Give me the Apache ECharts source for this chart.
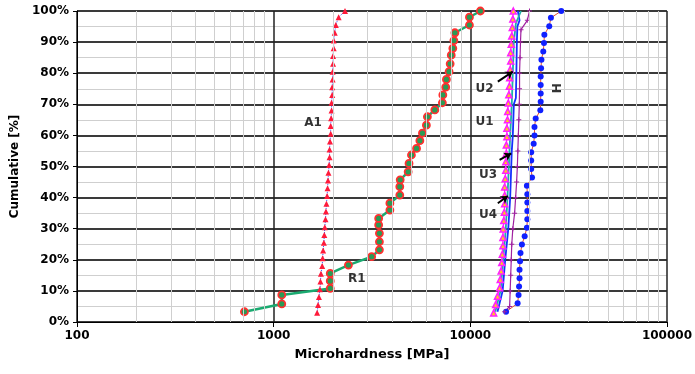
<!DOCTYPE html>
<html>
<head>
<meta charset="utf-8">
<script src="https://cdn.jsdelivr.net/npm/echarts@6/dist/echarts.min.js"></script>
<style>
  html, body { margin: 0; padding: 0; background: #fff; }
  #chart { width: 695px; height: 374px; }
</style>
</head>
<body>
<div id="chart"></div>
<script>
// cumulative levels [%] and microhardness [MPa]
const levelsA1 = [3, 5.5, 8, 10.5, 13, 15.5, 18, 20.5, 23, 25.5, 28, 30.5, 33, 35.5, 38, 40.5, 43, 45.5, 48, 50.5,
  53, 55.5, 58, 60.5, 63, 65.5, 68, 70.5, 73, 75.5, 78, 80.5, 83, 85.5, 88, 90.5, 93, 95.5, 98, 100];
const hardA1 = [1664, 1682, 1700, 1720, 1730, 1740, 1765, 1775, 1785, 1800, 1810, 1820, 1835, 1845, 1855, 1870, 1880, 1890, 1900, 1915,
  1925, 1925, 1935, 1950, 1950, 1960, 1970, 1970, 1985, 1985, 1995, 1995, 2005, 2005, 2020, 2020, 2045, 2070, 2140, 2306];

const levelsR1 = [3.3, 5.8, 8.7, 10.8, 13.2, 15.6, 18.3, 21, 23.2, 25.8, 28.5, 31.2, 33.3, 36, 38.2, 40.8, 43.5, 45.7, 48.3, 51,
  53.7, 55.8, 58.3, 60.7, 63.3, 66, 68.2, 70.5, 73, 75.5, 78, 80.5, 83, 85.8, 88, 90.5, 93, 95.5, 98, 100];
const hardR1 = [710, 1100, 1100, 1940, 1940, 1940, 2400, 3150, 3450, 3450, 3450, 3420, 3420, 3900, 3900, 4380, 4380, 4400, 4830, 4880,
  5020, 5330, 5540, 5710, 5980, 6050, 6600, 7210, 7250, 7500, 7560, 7800, 7900, 8000, 8150, 8250, 8350, 9900, 9900, 11250];

const levelsPink = [2.9, 5.6, 8.3, 11, 13.7, 16.4, 19.1, 21.8, 24.5, 27.2, 29.9, 32.6, 35.3, 38, 40.7, 43.4, 46.1, 48.8, 51.5, 54.2,
  56.9, 59.6, 62.3, 65, 67.7, 70.4, 73.1, 75.8, 78.5, 81.2, 83.9, 86.6, 89.3, 92, 94.7, 97.4, 100];
const hardPink = [13150, 13450, 13750, 14100, 14200, 14350, 14450, 14550, 14650, 14650, 14700, 14800, 14900, 14950, 14950, 14950, 15050, 15150, 15150, 15250,
  15250, 15350, 15350, 15450, 15500, 15600, 15700, 15800, 15850, 15950, 16050, 16050, 16150, 16250, 16350, 16450, 16550];

const levelsTeal = [3.3, 10, 20, 30, 40, 50, 60, 70, 80, 90, 96, 100];
const hardTeal = [13400, 14250, 14700, 15150, 15450, 15700, 15950, 16250, 16450, 16650, 17050, 18100];

const levelsBlue = [3.3, 10, 20, 30, 40, 50, 55, 60, 70, 72, 80, 90, 95, 97, 100];
const hardBlue = [13750, 14600, 15050, 15600, 15950, 16150, 16250, 16450, 16650, 17050, 17150, 17250, 17350, 17800, 17450];

const levelsPurple = [3.3, 5, 10, 15, 20, 25, 30, 35, 40, 45, 50, 55, 60, 65, 70, 75, 80, 85, 90, 94, 97, 100];
const hardPurple = [14950, 15850, 15950, 16050, 16150, 16250, 16450, 16800, 17000, 17200, 17350, 17450, 17550, 17650, 17750, 17800, 17800, 17900, 18000, 18100, 19500, 20000];

const levelsH = [3.3, 6, 8.7, 11.4, 14.1, 16.8, 19.5, 22.2, 24.9, 27.6, 30.3, 33, 35.7, 38.4, 41.1, 43.8, 46.5, 49.2, 51.9, 54.6,
  57.3, 60, 62.7, 65.4, 68.1, 70.8, 73.5, 76.2, 78.9, 81.6, 84.3, 87, 89.7, 92.4, 95.1, 97.8, 100];
const hardH = [15200, 17400, 17600, 17700, 17800, 17800, 17900, 18000, 18300, 18900, 19400, 19500, 19500, 19500, 19500, 19400, 20600, 20400, 20400, 20400,
  21000, 21200, 21200, 21500, 22700, 22800, 22800, 22800, 22800, 22900, 23000, 23500, 23700, 23800, 25200, 25700, 29000];

// text labels and arrows (data coordinates)
const labelNames = ['A1', 'R1', 'U2', 'U1', 'U3', 'U4', 'H'];
const labelX = [1585, 2650, 11830, 11830, 12300, 12300, 27800];
const labelY = [64.1, 14, 75, 64.4, 47.3, 34.4, 75.2];
const arrowFrom = [[13800, 77.3], [14090, 52.1], [13800, 38.2]];
const arrowTo = [[16440, 80.5], [16150, 54.2], [15530, 40.5]];

// minor vertical grid of the log axis
const minorX = [200, 300, 400, 500, 600, 700, 800, 900,
  2000, 3000, 4000, 5000, 6000, 7000, 8000, 9000,
  20000, 30000, 40000, 50000, 60000, 70000, 80000, 90000];

const FONT = 'DejaVu Sans';

function pairs(xs, ys) {
  return xs.map((x, i) => [x, ys[i]]);
}

const chart = echarts.init(document.getElementById('chart'));

const option = {
  animation: false,
  backgroundColor: '#fff',
  grid: { left: 77, right: 27, top: 11, bottom: 52 },
  xAxis: {
    type: 'log',
    logBase: 10,
    min: 100,
    max: 100000,
    name: 'Microhardness [MPa]',
    nameLocation: 'middle',
    nameGap: 26,
    nameTextStyle: { fontFamily: FONT, fontWeight: 'bold', fontSize: 13, color: '#000' },
    axisLine: { lineStyle: { color: '#000', width: 1 } },
    axisTick: { show: true, length: 5, lineStyle: { color: '#000' } },
    axisLabel: {
      fontFamily: FONT, fontWeight: 'bold', fontSize: 12, color: '#000', margin: 8,
      formatter: v => String(Math.round(v))
    },
    splitLine: { show: true, lineStyle: { color: '#222', width: 1.5 } }
  },
  yAxis: {
    type: 'value',
    min: 0,
    max: 100,
    interval: 10,
    name: 'Cumulative [%]',
    nameLocation: 'middle',
    nameGap: 54,
    nameTextStyle: { fontFamily: FONT, fontWeight: 'bold', fontSize: 12, color: '#000' },
    axisLine: { show: true, lineStyle: { color: '#000', width: 1 } },
    axisTick: { show: true, length: 4, lineStyle: { color: '#000' } },
    axisLabel: { fontFamily: FONT, fontWeight: 'bold', fontSize: 12, color: '#000', formatter: '{value}%' },
    splitLine: { show: true, lineStyle: { color: '#3a3a3a', width: 2 } },
    minorTick: { show: false, splitNumber: 2 },
    minorSplitLine: { show: true, lineStyle: { color: '#cfcfcf', width: 1 } }
  },
  series: [
    {
      name: 'grid',
      type: 'line',
      data: [],
      silent: true,
      markLine: {
        silent: true,
        symbol: ['none', 'none'],
        label: { show: false },
        lineStyle: { color: '#cfcfcf', width: 1, type: 'solid' },
        data: minorX.map(v => ({ xAxis: v }))
      }
    },
    {
      name: 'A1',
      type: 'line',
      data: pairs(hardA1, levelsA1),
      lineStyle: { color: '#3050ff', width: 1, type: 'dotted' },
      symbol: 'triangle',
      symbolSize: 6,
      itemStyle: { color: '#ff1a3a', borderColor: '#ff1a3a', borderWidth: 0 }
    },
    {
      name: 'R1',
      type: 'line',
      data: pairs(hardR1, levelsR1),
      lineStyle: { color: '#1aaa70', width: 2.5 },
      symbol: 'circle',
      symbolSize: 7,
      itemStyle: { color: '#2a9a55', borderColor: '#ff3030', borderWidth: 1.8 }
    },
    {
      name: 'H',
      type: 'line',
      data: pairs(hardH, levelsH),
      lineStyle: { color: '#e05030', width: 1 },
      symbol: 'circle',
      symbolSize: 6,
      itemStyle: { color: '#1020ff', borderColor: '#1020ff', borderWidth: 0 }
    },
    {
      name: 'Upurple',
      type: 'line',
      data: pairs(hardPurple, levelsPurple),
      lineStyle: { color: '#a020a0', width: 1.2 },
      symbol: 'path://M4,0H6V4H10V6H6V10H4V6H0V4H4Z',
      symbolSize: 5,
      itemStyle: { color: '#a020a0' }
    },
    {
      name: 'Ublue',
      type: 'line',
      data: pairs(hardBlue, levelsBlue),
      lineStyle: { color: '#1530ff', width: 1.8 },
      symbol: 'none'
    },
    {
      name: 'Uteal',
      type: 'line',
      data: pairs(hardTeal, levelsTeal),
      lineStyle: { color: '#20b0a8', width: 1.8 },
      symbol: 'none'
    },
    {
      name: 'Upink',
      type: 'line',
      data: pairs(hardPink, levelsPink),
      lineStyle: { color: '#ff20ff', width: 1.2 },
      symbol: 'triangle',
      symbolSize: 6,
      itemStyle: { color: '#ffc820', borderColor: '#ff20ff', borderWidth: 1.5 }
    },
    {
      name: 'labels',
      type: 'scatter',
      symbolSize: 0,
      silent: true,
      data: labelNames.map((n, i) => ({
        name: n,
        value: [labelX[i], labelY[i]],
        label: n === 'H' ? { rotate: 90 } : {}
      })),
      label: {
        show: true,
        position: 'inside',
        formatter: p => p.name,
        fontFamily: FONT,
        fontWeight: 'bold',
        fontSize: 12,
        color: '#000'
      },
      markLine: {
        silent: true,
        symbol: ['none', 'arrow'],
        symbolSize: 7,
        label: { show: false },
        lineStyle: { color: '#000', width: 2, type: 'solid' },
        data: arrowFrom.map((a, i) => [{ coord: a }, { coord: arrowTo[i] }])
      }
    }
  ]
};

chart.setOption(option);
</script>
</body>
</html>
